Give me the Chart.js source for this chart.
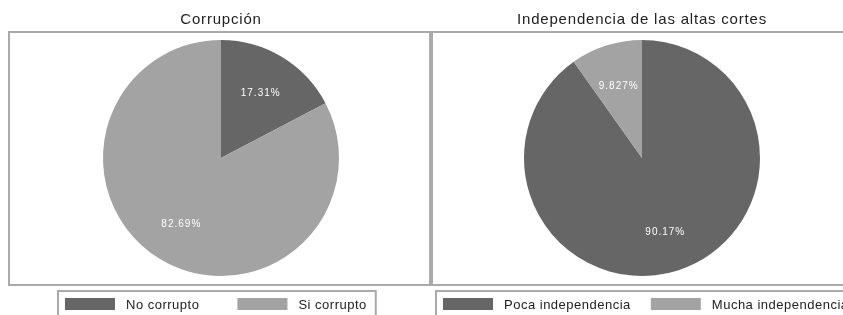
<!DOCTYPE html>
<html>
<head>
<meta charset="utf-8">
<script src="https://cdn.jsdelivr.net/npm/chart.js@4.4.0/dist/chart.umd.min.js"></script>
<style>
  html, body { margin: 0; padding: 0; background: #fff; overflow: hidden; width: 843px; height: 315px; }
  .panel { position: absolute; top: 0; width: 431px; height: 315px; }
</style>
</head>
<body>
<div class="panel" style="left:0"><canvas id="pie-corrupcion" width="431" height="315"></canvas></div>
<div class="panel" style="left:431px"><canvas id="pie-cortes" width="431" height="315"></canvas></div>
<script>
const titles = ['Corrupción', 'Independencia de las altas cortes'];
const labelsCorrupcion = ['No corrupto', 'Si corrupto'];
const valuesCorrupcion = [17.31, 82.69];
const labelsCortes = ['Poca independencia', 'Mucha independencia'];
const valuesCortes = [90.17, 9.827];
const sliceColors = ['#666666', '#a3a3a3'];

const FONT = "'Liberation Sans', Arial, Helvetica, sans-serif";

// frame around the plot, slice labels and the boxed legend
const boxPlugin = {
    id: 'boxes',
    beforeDraw(chart) {
        chart.ctx.letterSpacing = '0.8px';
    },
    afterDatasetsDraw(chart) {
        const ctx = chart.ctx;
        const meta = chart.getDatasetMeta(0);
        const values = chart.data.datasets[0].data;
        ctx.save();
        ctx.font = '10px ' + FONT;
        ctx.letterSpacing = '1px';
        ctx.fillStyle = '#ffffff';
        ctx.textAlign = 'center';
        ctx.textBaseline = 'middle';
        meta.data.forEach((arc, i) => {
            const p = arc.getProps(['x', 'y', 'startAngle', 'endAngle', 'outerRadius'], true);
            const a = (p.startAngle + p.endAngle) / 2;
            const r = p.outerRadius * 0.65;
            ctx.fillText(values[i].toPrecision(4) + '%', p.x + Math.cos(a) * r, p.y + Math.sin(a) * r + 1);
        });
        ctx.restore();
    },
    afterDraw(chart, args, opts) {
        const ctx = chart.ctx;
        const ca = chart.chartArea;
        ctx.save();
        ctx.strokeStyle = '#aaaaaa';
        ctx.lineWidth = 2;
        ctx.strokeRect(opts.left, ca.top - 8, opts.right - opts.left, ca.bottom - ca.top + 17);

        // legend
        ctx.font = '13px ' + FONT;
        ctx.letterSpacing = '0.5px';
        const sw = 50, sh = 12, gapText = 11, padL = 7, padR = 9;
        const texts = chart.data.labels;
        const widths = texts.map(t => sw + gapText + ctx.measureText(t).width);
        const total = padL + widths[0] + opts.legendGap + widths[1] + padR;
        const x0 = opts.legendLeft;
        const top = ca.bottom + 15;
        ctx.strokeRect(x0, top, total, 40);
        const cy = top + 13;
        let ix = x0 + padL;
        ctx.textAlign = 'left';
        ctx.textBaseline = 'middle';
        texts.forEach((t, i) => {
            ctx.fillStyle = sliceColors[i];
            ctx.fillRect(ix, cy - sh / 2, sw, sh);
            ctx.fillStyle = '#222222';
            ctx.fillText(t, ix + sw + gapText, cy + 1);
            ix += widths[i] + opts.legendGap;
        });
        ctx.restore();
    }
};

function makePie(id, title, labels, values, padding, frame) {
    return new Chart(document.getElementById(id), {
        type: 'pie',
        data: {
            labels: labels,
            datasets: [{
                data: values,
                backgroundColor: sliceColors,
                borderWidth: 0
            }]
        },
        options: {
            responsive: false,
            animation: false,
            layout: { padding: padding },
            plugins: {
                legend: { display: false },
                tooltip: { enabled: false },
                title: {
                    display: true,
                    text: title,
                    color: '#222222',
                    font: { size: 15, family: FONT, weight: 'normal' },
                    padding: { top: 11, bottom: 11 }
                },
                boxes: frame
            }
        },
        plugins: [boxPlugin]
    });
}

makePie('pie-corrupcion', titles[0], labelsCorrupcion, valuesCorrupcion,
    { left: 11, right: 0, top: 0, bottom: 39 },
    { left: 9, right: 430, legendLeft: 58, legendGap: 38 });
makePie('pie-cortes', titles[1], labelsCortes, valuesCortes,
    { left: 0, right: 9, top: 0, bottom: 39 },
    { left: 1, right: 445, legendLeft: 5, legendGap: 20 });
</script>
</body>
</html>
